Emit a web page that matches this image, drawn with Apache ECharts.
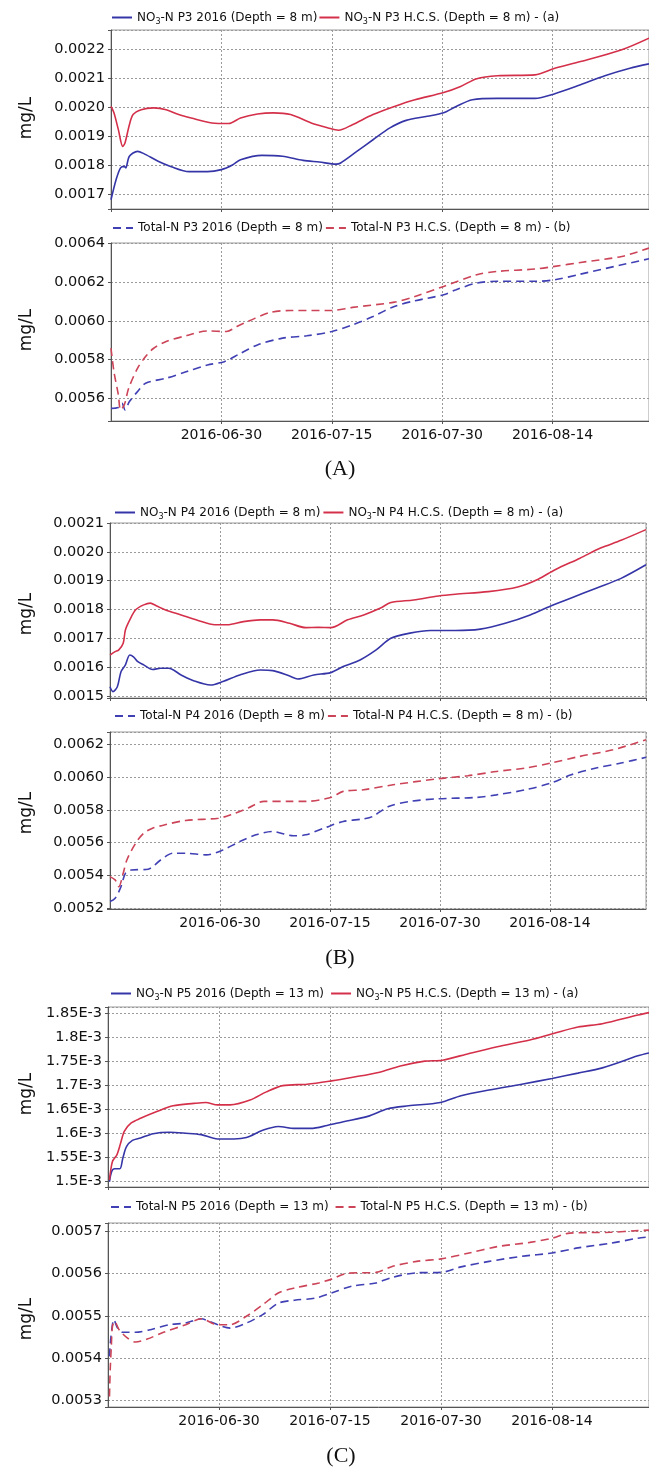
<!DOCTYPE html>
<html>
<head>
<meta charset="utf-8">
<script src="https://cdn.jsdelivr.net/npm/echarts@6/dist/echarts.min.js"></script>
<style>
html,body{margin:0;padding:0;background:#fff;}
#chart{width:649px;height:1469px;}
</style>
</head>
<body>
<div id="chart"></div>
<script>
// ---- x axis: days since 2016-06-15 ----
const xTickDays = [15, 30, 45, 60];
const xTickLabels = ['2016-06-30', '2016-07-15', '2016-07-30', '2016-08-14'];

// ---- legend names ----
const namesA = ['NO3-N P3 2016 (Depth = 8 m)', 'NO3-N P3 H.C.S. (Depth = 8 m) - (a)', 'Total-N P3 2016 (Depth = 8 m)', 'Total-N P3 H.C.S. (Depth = 8 m) - (b)'];
const namesB = ['NO3-N P4 2016 (Depth = 8 m)', 'NO3-N P4 H.C.S. (Depth = 8 m) - (a)', 'Total-N P4 2016 (Depth = 8 m)', 'Total-N P4 H.C.S. (Depth = 8 m) - (b)'];
const namesC = ['NO3-N P5 2016 (Depth = 13 m)', 'NO3-N P5 H.C.S. (Depth = 13 m) - (a)', 'Total-N P5 2016 (Depth = 13 m)', 'Total-N P5 H.C.S. (Depth = 13 m) - (b)'];
const panelLabels = ['(A)', '(B)', '(C)'];

// ---- series values: [day, mg/L] ----
const A_NO3_2016 = [[0,0.00168],[0.7,0.00175],[1.3,0.00179],[1.8,0.001795],[2.0,0.00179],[2.5,0.00183],[3.6,0.001847],[4.4,0.00184],[6.4,0.001813],[8.1,0.001795],[10.6,0.001777],[13.1,0.001777],[15,0.001784],[16.5,0.0018],[17.6,0.001818],[20.5,0.001833],[23.3,0.00183],[26.1,0.001816],[28.3,0.00181],[30.6,0.001803],[31.2,0.001807],[33.4,0.001847],[35.6,0.001887],[37.9,0.001928],[40.1,0.001954],[43,0.001968],[45.2,0.00198],[46.9,0.002002],[49.1,0.002025],[52.5,0.00203],[57.6,0.00203],[60.3,0.002046],[63.8,0.002077],[67.1,0.002108],[70.5,0.002134],[73.1,0.002149]];
const A_NO3_HCS = [[0,0.002002],[0.4,0.00198],[1,0.001922],[1.6,0.001864],[1.9,0.001876],[2.5,0.001939],[3,0.001974],[4.1,0.001991],[5.8,0.001997],[7.5,0.001991],[9.2,0.001974],[10.9,0.001962],[13.7,0.001945],[16,0.001943],[17.6,0.001962],[19.9,0.001976],[22.1,0.00198],[24.4,0.001974],[27.2,0.001945],[29.5,0.001928],[30.9,0.00192],[32.8,0.001939],[35.6,0.001974],[38.5,0.002002],[41.3,0.002025],[45.2,0.00205],[47.5,0.002071],[49.7,0.002098],[52.5,0.002108],[57.6,0.002111],[60.3,0.002134],[63.8,0.002157],[69.4,0.002198],[73.1,0.002238]];
const A_TN_2016 = [[0,0.00555],[1,0.005554],[1.5,0.005576],[1.9,0.005542],[2.5,0.005585],[3.6,0.005636],[4.7,0.005679],[7.5,0.005705],[10.3,0.005739],[13.1,0.005773],[15.4,0.00579],[17.6,0.005833],[19.9,0.005876],[23.3,0.005911],[26.6,0.005923],[30,0.005945],[32.8,0.005979],[35.6,0.006022],[38.5,0.006074],[41.3,0.006103],[45.2,0.006134],[46.9,0.00616],[49.7,0.006194],[52.5,0.006203],[57.6,0.006203],[60.3,0.006211],[63.8,0.00624],[69.4,0.006288],[73.1,0.006319]];
const A_TN_HCS = [[0,0.005859],[0.4,0.005739],[1,0.005619],[1.3,0.005542],[1.8,0.005567],[2.4,0.005653],[3.6,0.005756],[4.7,0.005816],[5.8,0.005859],[7.5,0.005894],[10.3,0.005924],[13.1,0.005948],[15.7,0.005945],[17.1,0.005971],[18.8,0.006],[21.6,0.006043],[24.4,0.006053],[30,0.006053],[32.8,0.006069],[38.5,0.006096],[41.3,0.006125],[45.2,0.006177],[49.7,0.006237],[52.5,0.006254],[57.6,0.006266],[60.3,0.00628],[63.8,0.0063],[69.4,0.006331],[73.1,0.006374]];

const B_NO3_2016 = [[0,0.001532],[0.4,0.001515],[1,0.001532],[1.5,0.001584],[2.1,0.001608],[2.7,0.001642],[3.2,0.001636],[3.8,0.001619],[4.6,0.001608],[5.8,0.001592],[6.9,0.001596],[8,0.001596],[9.7,0.001573],[11.4,0.001553],[13.7,0.001538],[15.4,0.00155],[17.7,0.001573],[20.5,0.00159],[22.2,0.001588],[24.5,0.001569],[25.6,0.001559],[27.8,0.001573],[30.1,0.001581],[31.8,0.001602],[34.1,0.001625],[36.3,0.00166],[38.3,0.0017],[40.9,0.001718],[43.7,0.001727],[47.1,0.001727],[50.5,0.001732],[53.9,0.001752],[57.3,0.001781],[60.1,0.001812],[62.9,0.00184],[66.3,0.001874],[69.7,0.001908],[73.1,0.001955]];
const B_NO3_HCS = [[0,0.001642],[0.7,0.001654],[1.2,0.00166],[1.8,0.001683],[2.1,0.001729],[2.7,0.001764],[3.5,0.001799],[4.6,0.001816],[5.5,0.001822],[6.3,0.001813],[7.5,0.001799],[9.7,0.001781],[12,0.001762],[14.3,0.001747],[16,0.001747],[18.2,0.001758],[20.5,0.001764],[22.2,0.001764],[24.5,0.001752],[26.7,0.001737],[28.4,0.001738],[30.1,0.001737],[32.4,0.001764],[34.6,0.001781],[36.9,0.001805],[38.3,0.001824],[41.4,0.001833],[44.8,0.001847],[47.1,0.001853],[51.6,0.001862],[55.6,0.001878],[58.4,0.001905],[60.7,0.001938],[64.1,0.001978],[66.9,0.002013],[69.7,0.00204],[73.1,0.002077]];
const B_TN_2016 = [[0,0.005242],[0.7,0.005262],[1.5,0.005333],[2.1,0.005414],[2.9,0.005434],[5.2,0.005439],[6.9,0.005495],[8.6,0.005536],[10.3,0.005536],[13.1,0.005526],[15.4,0.005556],[17.7,0.005607],[19.9,0.005648],[22.2,0.005668],[25,0.005642],[26.7,0.005648],[29.5,0.005694],[31.8,0.005729],[34.6,0.005745],[35.8,0.005759],[38,0.00582],[40.9,0.005851],[44.8,0.005867],[49.9,0.005875],[52.7,0.005891],[56.7,0.005922],[60.1,0.005962],[62.9,0.006013],[66.3,0.006054],[69.7,0.006084],[73.1,0.006119]];
const B_TN_HCS = [[0,0.005394],[0.7,0.005374],[1.2,0.005333],[1.8,0.005414],[2.3,0.005495],[3.5,0.005597],[4.6,0.005658],[5.8,0.005688],[7.5,0.005709],[10.3,0.005735],[14.8,0.005749],[16.5,0.00577],[18.8,0.00581],[21,0.005851],[24.5,0.005851],[26.7,0.005851],[30.1,0.005875],[31.8,0.005912],[34.6,0.005922],[38.6,0.005952],[44.8,0.005989],[48.8,0.006007],[52.7,0.006033],[56.7,0.006054],[60.1,0.006084],[64.1,0.006125],[68.6,0.006165],[73.1,0.006226]];

const C_NO3_2016 = [[0.2,0.0015],[0.5,0.0015215],[0.9,0.001527],[1.6,0.001527],[2,0.001549],[2.5,0.001573],[3.3,0.001586],[4.4,0.001591],[6.1,0.0016],[8.3,0.001603],[10.5,0.001601],[12.6,0.001598],[14.8,0.001589],[17,0.001589],[18.7,0.001592],[20.9,0.001607],[23,0.001615],[25.2,0.001611],[27.4,0.001611],[29.6,0.001617],[31.8,0.001625],[35.1,0.001636],[37.8,0.001652],[40.6,0.001658],[44.9,0.001665],[47.7,0.001679],[51.5,0.001691],[55.9,0.001703],[60,0.001715],[63.5,0.001726],[66.8,0.001737],[71.6,0.001762],[73.1,0.001768]];
const C_NO3_HCS = [[0.2,0.001504],[0.6,0.001542],[1.2,0.001556],[1.7,0.00158],[2.2,0.001605],[3.1,0.001622],[4.4,0.001632],[6.6,0.001646],[8.8,0.001658],[11.6,0.001663],[13.2,0.001665],[14.8,0.00166],[16.5,0.00166],[19.2,0.00167],[21.4,0.001687],[23.6,0.0017],[26.9,0.001703],[30.2,0.00171],[32.9,0.001717],[36.7,0.001728],[39.5,0.001741],[42.8,0.001751],[45.2,0.001753],[48.8,0.001767],[52.6,0.001781],[57,0.001795],[60.3,0.001809],[63.5,0.001822],[66.8,0.001829],[71.6,0.001847],[73.1,0.001852]];
const C_TN_2016 = [[0.2,0.005404],[0.4,0.005451],[0.8,0.005491],[1.3,0.005471],[2,0.005461],[3.7,0.005461],[6.1,0.005469],[8.3,0.005479],[10.5,0.005483],[12.6,0.005493],[13.7,0.005487],[15.4,0.005475],[16.5,0.005471],[18.7,0.005483],[20.9,0.005503],[23,0.00553],[25.2,0.005537],[28,0.005542],[30.2,0.005554],[32.9,0.00557],[36.2,0.005578],[38.4,0.005591],[41.7,0.005602],[45,0.005603],[47.7,0.005616],[51.5,0.005629],[55.9,0.005641],[60,0.005649],[63.5,0.005661],[67.9,0.005672],[71.6,0.005684],[73.1,0.005687]];
const C_TN_HCS = [[0.2,0.005309],[0.3,0.005373],[0.45,0.005428],[0.6,0.005475],[0.9,0.005487],[1.5,0.005467],[2.6,0.005448],[3.7,0.005438],[5.3,0.005445],[7.5,0.005461],[10.5,0.005479],[12.6,0.005493],[14.8,0.005479],[16.5,0.005479],[18.7,0.005499],[20.9,0.005526],[23,0.005554],[25.2,0.005566],[28.5,0.005578],[30.2,0.005587],[32.4,0.005601],[36.2,0.005603],[38.4,0.005617],[41.7,0.005629],[45,0.005635],[48.8,0.005649],[52.6,0.005664],[57,0.005674],[60,0.005684],[62.4,0.005696],[67.9,0.005698],[71.6,0.005702],[73.1,0.005703]];

// ---- layout of the six plots ----
const grids = [
  {left:111, right:0,   top:30,   height:179, ymin:0.001648, ymax:0.002266, step:0.0001,  split:6, fmt:'f4'},
  {left:111, right:0,   top:243,  height:178, ymin:0.005485, ymax:0.0064,   step:0.0002,  split:5, fmt:'f4'},
  {left:110, right:3,   top:523,  height:175, ymin:0.001493, ymax:0.0021,   step:0.0001,  split:6, fmt:'f4'},
  {left:110, right:3,   top:732,  height:177, ymin:0.005197, ymax:0.006273, step:0.0002,  split:5, fmt:'f4'},
  {left:108, right:-12, top:1007, height:180, ymin:0.001489, ymax:0.0018637,step:0.00005, split:7, fmt:'e3'},
  {left:108, right:-12, top:1223, height:184, ymin:0.005284, ymax:0.00572,  step:0.0001,  split:4, fmt:'f4'}
];
const legendPos = [
  {left:111, top:9,    gap:1},
  {left:112, top:222,  gap:2},
  {left:114, top:504,  gap:2},
  {left:114, top:710,  gap:2},
  {left:110, top:985,  gap:6},
  {left:110, top:1201, gap:6}
];
const mgLabelY = [118, 330, 614, 813, 1094, 1319];
const panelLabelPos = [[340, 469], [340, 958], [341, 1456]];

const BLUE = '#3535a8', RED = '#d4304a', BLUE_D = '#4040b4', RED_D = '#cc4458';
const FONT = 'DejaVu Sans';

const seriesSets = [
  [A_NO3_2016, A_NO3_HCS, namesA[0], namesA[1], false],
  [A_TN_2016, A_TN_HCS, namesA[2], namesA[3], true],
  [B_NO3_2016, B_NO3_HCS, namesB[0], namesB[1], false],
  [B_TN_2016, B_TN_HCS, namesB[2], namesB[3], true],
  [C_NO3_2016, C_NO3_HCS, namesC[0], namesC[1], false],
  [C_TN_2016, C_TN_HCS, namesC[2], namesC[3], true]
];

function yFmt(g) {
  return function (v) {
    const k = v / g.step;
    if (Math.abs(k - Math.round(k)) > 1e-4) return '';
    if (g.fmt === 'e3') return parseFloat((v * 1000).toFixed(2)) + 'E-3';
    return v.toFixed(4);
  };
}
function xFmt(v) {
  const i = xTickDays.findIndex(d => Math.abs(d - v) < 1e-6);
  return i >= 0 ? xTickLabels[i] : '';
}
function legendFmt(name) {
  if (name.indexOf('NO3') === 0) return '{n|NO}{s|3}{n|' + name.slice(3) + '}';
  return '{n|' + name + '}';
}

const option = {
  animation: false,
  backgroundColor: '#fff',
  grid: grids.map(g => ({left:g.left, right:g.right, top:g.top, height:g.height, show:true, borderColor:'#9a9a9a', borderWidth:1, backgroundColor:'transparent'})),
  xAxis: grids.map((g, i) => ({
    type:'value', gridIndex:i, min:0, max:73.1, interval:15,
    axisLine:{show:true, onZero:false, lineStyle:{color:'#555', width:1}},
    axisTick:{show:true, length:3, lineStyle:{color:'#555'}},
    axisLabel:{show: i % 2 === 1, formatter:xFmt, color:'#111', fontFamily:FONT, fontSize:14, margin:7, showMinLabel:false, showMaxLabel:false},
    splitLine:{show:true, lineStyle:{color:'#9a9a9a', type:[2,2], width:1}}
  })),
  yAxis: grids.map((g, i) => ({
    type:'value', gridIndex:i, min:g.ymin, max:g.ymax, splitNumber:g.split, minInterval:g.step, maxInterval:g.step,
    axisLine:{show:true, lineStyle:{color:'#555', width:1}},
    axisTick:{show:true, length:3, lineStyle:{color:'#555'}},
    axisLabel:{formatter:yFmt(g), color:'#111', fontFamily:FONT, fontSize:14.5, margin:6},
    splitLine:{show:true, lineStyle:{color:'#9a9a9a', type:[2,2], width:1}}
  })),
  legend: seriesSets.map((s, i) => ({
    left: legendPos[i].left, top: legendPos[i].top, itemGap: legendPos[i].gap,
    itemWidth: 20, itemHeight: 10, padding: 0,
    data: [s[2], s[3]],
    formatter: legendFmt,
    itemStyle: {opacity: 0},
    textStyle: {
      color:'#111', fontFamily:FONT, fontSize:12,
      rich: {
        n: {fontFamily:FONT, fontSize:12, color:'#111', lineHeight:14},
        s: {fontFamily:FONT, fontSize:8, color:'#111', lineHeight:14, padding:[9,0,0,0]}
      }
    }
  })),
  series: [],
  graphic: []
};

seriesSets.forEach((s, i) => {
  const dashed = s[4];
  [[s[0], s[2], dashed ? BLUE_D : BLUE], [s[1], s[3], dashed ? RED_D : RED]].forEach(([data, name, color]) => {
    option.series.push({
      type:'line', name:name, xAxisIndex:i, yAxisIndex:i, data:data,
      showSymbol:false, symbol:'none', smooth:0.3,
      lineStyle:{color:color, width:1.6, type: dashed ? [8,5] : 'solid'},
      itemStyle:{color:color},
      clip:true
    });
  });
});

mgLabelY.forEach(y => {
  option.graphic.push({
    type:'text', x:27, y:y, rotation:Math.PI/2,
    style:{text:'mg/L', fontFamily:FONT, fontSize:17, fill:'#111', align:'center', verticalAlign:'middle'}
  });
});
panelLabels.forEach((t, i) => {
  option.graphic.push({
    type:'text', x:panelLabelPos[i][0], y:panelLabelPos[i][1],
    style:{text:t, fontFamily:'Liberation Serif', fontSize:22, fill:'#111', align:'center', verticalAlign:'middle'}
  });
});

const chart = echarts.init(document.getElementById('chart'), null, {renderer:'canvas'});
chart.setOption(option);
</script>
</body>
</html>
